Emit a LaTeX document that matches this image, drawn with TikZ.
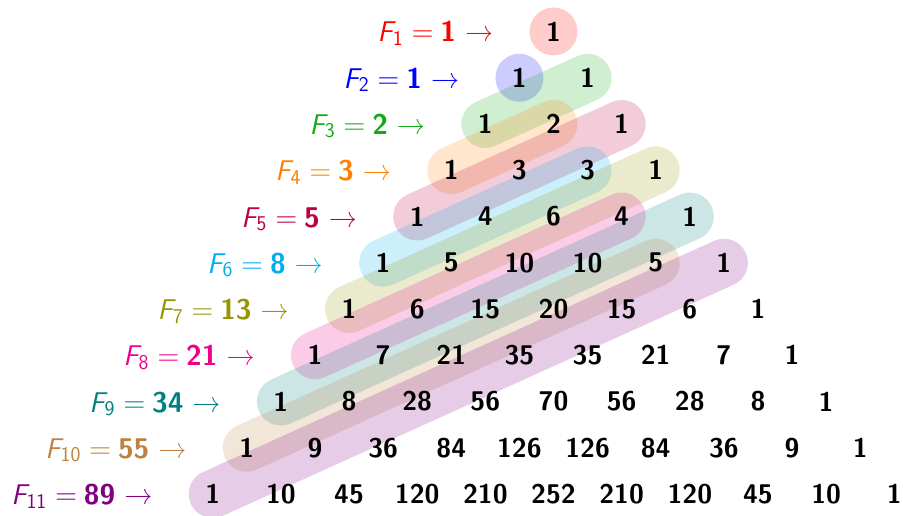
\documentclass[tikz,border=0pt]{standalone}
\usetikzlibrary{backgrounds}
\definecolor{cF1}{RGB}{255,0,0}
\definecolor{cF2}{RGB}{0,0,255}
\definecolor{cF3}{RGB}{20,170,20}
\definecolor{cF4}{RGB}{255,128,0}
\definecolor{cF5}{RGB}{191,0,64}
\definecolor{cF6}{RGB}{0,174,239}
\definecolor{cF7}{RGB}{150,150,0}
\definecolor{cF8}{RGB}{236,0,140}
\definecolor{cF9}{RGB}{0,128,128}
\definecolor{cF10}{RGB}{191,128,64}
\definecolor{cF11}{RGB}{128,0,128}
\newcommand{\fiblabel}[2]{{\sffamily\itshape F}\raisebox{-3.5pt}{\sffamily\fontsize{21}{22}\selectfont #1}\hspace{9pt}{\fontsize{30}{30}\selectfont =}\hspace{7pt}{\sffamily\bfseries #2}\hspace{9pt}{\fontsize{30}{30}\selectfont\textrightarrow}}
\begin{document}
\begin{tikzpicture}[x=1pt,y=-1pt,
  num/.style={font=\sffamily\bfseries\fontsize{27}{30}\selectfont, inner sep=0pt},
  lab/.style={font=\fontsize{28.5}{30}\selectfont, anchor=base east, inner sep=0pt},
  band/.style={line width=48pt, line cap=round, draw opacity=0.2},
  dot/.style={fill opacity=0.2}]
\useasboundingbox (0,0) rectangle (903,516);
\foreach \row [count=\n from 0] in {{1},{1,1},{1,2,1},{1,3,3,1},{1,4,6,4,1},{1,5,10,10,5,1},{1,6,15,20,15,6,1},{1,7,21,35,35,21,7,1},{1,8,28,56,70,56,28,8,1},{1,9,36,84,126,126,84,36,9,1},{1,10,45,120,210,252,210,120,45,10,1}}{
  \foreach \v [count=\k from 0] in \row {
    \node[num] (p\n-\k) at ({553.5+(2*\k-\n)*34.08}, {31.5+46.25*\n}) {\v};
  }
}
\foreach \m/\f [evaluate=\m as \n using int(\m-1)] in {1/1,2/1,3/2,4/3,5/5,6/8,7/13,8/21,9/34,10/55,11/89}{
  \node[lab, text=cF\m] (L\m) at ({553.5-\n*34.08-60}, {42+46.25*\n}) {\fiblabel{\m}{\f}};
}
\begin{scope}[on background layer]
  \fill[cF1, dot] (p0-0.center) circle[radius=24];
  \fill[cF2, dot] (p1-0.center) circle[radius=24];
  \draw[band, cF3]  (p2-0.center) -- (p1-1.center);
  \draw[band, cF4]  (p3-0.center) -- (p2-1.center);
  \draw[band, cF5]  (p4-0.center) -- (p2-2.center);
  \draw[band, cF6]  (p5-0.center) -- (p3-2.center);
  \draw[band, cF7]  (p6-0.center) -- (p3-3.center);
  \draw[band, cF8]  (p7-0.center) -- (p4-3.center);
  \draw[band, cF9]  (p8-0.center) -- (p4-4.center);
  \draw[band, cF10] (p9-0.center) -- (p5-4.center);
  \draw[band, cF11] (p10-0.center) -- (p5-5.center);
\end{scope}
\end{tikzpicture}
\end{document}
